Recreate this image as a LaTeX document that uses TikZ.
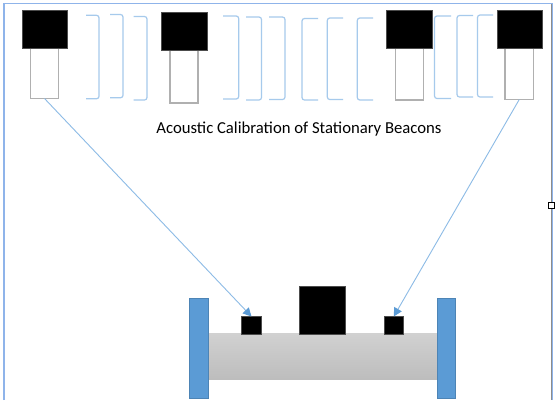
\documentclass[tikz,border=0pt]{standalone}
\usepackage{fontspec}
\setmainfont{Carlito}
\definecolor{bracketblue}{HTML}{A6CAEC}
\definecolor{framecol}{HTML}{8FB4EA}
\definecolor{linkblue}{HTML}{8DBBE6}
\definecolor{tipblue}{HTML}{5B9BD5}
\definecolor{plateblue}{HTML}{5B9BD5}
\definecolor{boxgray}{HTML}{B0B0B0}
\usetikzlibrary{arrows.meta}
\tikzset{
  blackbox/.style={draw=black!70,line width=.6pt,fill=black,inner sep=0pt,outer sep=0pt},
  whitebox/.style={draw=boxgray,line width=1.6pt,fill=white,inner sep=0pt,outer sep=0pt},
  plate/.style={draw=plateblue!85!black,line width=.5pt,fill=plateblue,inner sep=0pt,outer sep=0pt,minimum width=18.5pt,minimum height=100pt},
  bar/.style={draw=none,top color=black!18,bottom color=black!26,inner sep=0pt,outer sep=0pt,minimum width=229pt,minimum height=46.5pt},
  bracketline/.style={draw=bracketblue,line width=1.2pt,rounded corners=2.5pt},
  link/.style={draw=linkblue,line width=.9pt,-{Triangle[length=8.5pt,width=8.5pt,color=tipblue,fill=tipblue]}},
  frameline/.style={draw=framecol,line width=1.2pt},
  title/.style={font=\fontsize{16.7pt}{19pt}\selectfont,inner sep=0pt}
}
\begin{document}
\begin{tikzpicture}[x=1pt,y=-1pt]
\useasboundingbox (0,0) rectangle (555,400);
\fill[white] (0,0) rectangle (555,400);
% frame
\draw[frameline] (4,400) -- (4,3.5) -- (552.5,3.5) -- (552.5,400);
\draw[black!45,line width=1pt] (551,3.5) -- (551,400);
\node[draw=black,fill=white,line width=.9pt,minimum size=6pt,inner sep=0pt] (handle) at (551.5,205) {};
% right-facing brackets
\draw[bracketline] (86,15.3) -- (99,15.3) -- (99,98.8) -- (86,98.8);
\draw[bracketline] (110,14.5) -- (123,14.5) -- (123,97.8) -- (110,97.8);
\draw[bracketline] (133.5,16.5) -- (147,16.5) -- (147,100) -- (133.5,100);
\draw[bracketline] (223,16) -- (238.7,16) -- (238.7,99) -- (223,99);
\draw[bracketline] (246,17) -- (261.5,17) -- (261.5,100) -- (246,100);
\draw[bracketline] (269,17) -- (285,17) -- (285,99.5) -- (269,99.5);
% left-facing brackets
\draw[bracketline] (318,18.5) -- (302,18.5) -- (302,100) -- (318,100);
\draw[bracketline] (343,18) -- (327.3,18) -- (327.3,99.5) -- (343,99.5);
\draw[bracketline] (373,18) -- (357.3,18) -- (357.3,100) -- (373,100);
\draw[bracketline] (451,16) -- (434.5,16) -- (434.5,98.5) -- (451,98.5);
\draw[bracketline] (473,15.5) -- (457,15.5) -- (457,97) -- (473,97);
\draw[bracketline] (493,15) -- (477.5,15) -- (477.5,97) -- (493,97);
% beacons
\node[whitebox,minimum width=28pt,minimum height=50.5pt] (w1) at (44.5,73.25) {};
\node[blackbox,minimum width=45.5pt,minimum height=37.5pt] (b1) at (44.75,29.25) {};
\node[whitebox,minimum width=28pt,minimum height=52.5pt] (w2) at (184.25,76.75) {};
\node[blackbox,minimum width=45.5pt,minimum height=38pt] (b2) at (184.25,31.5) {};
\node[whitebox,minimum width=28pt,minimum height=52pt] (w3) at (409.4,74) {};
\node[blackbox,minimum width=45.5pt,minimum height=37.5pt] (b3) at (409.5,29.25) {};
\node[whitebox,minimum width=28.5pt,minimum height=51.5pt] (w4) at (519.25,73.75) {};
\node[blackbox,minimum width=45.5pt,minimum height=37.5pt] (b4) at (519.75,29.25) {};
% title
\node[title] (caption) at (299,129.5) {Acoustic Calibration of Stationary Beacons};
% vehicle
\node[bar] (body) at (322.5,356.25) {};
\node[plate] (pl) at (198.75,348) {};
\node[plate] (pr) at (446.25,348) {};
\node[blackbox,minimum width=46pt,minimum height=47.5pt] (big) at (322.4,310.25) {};
\node[blackbox,minimum width=19.5pt,minimum height=17.5pt] (s1) at (251.5,325.25) {};
\node[blackbox,minimum width=19.5pt,minimum height=17.5pt] (s2) at (393.75,325.25) {};
% links
\draw[link] (w1.south) -- (s1.north);
\draw[link] (w4.south) -- (s2.north);
\end{tikzpicture}
\end{document}
